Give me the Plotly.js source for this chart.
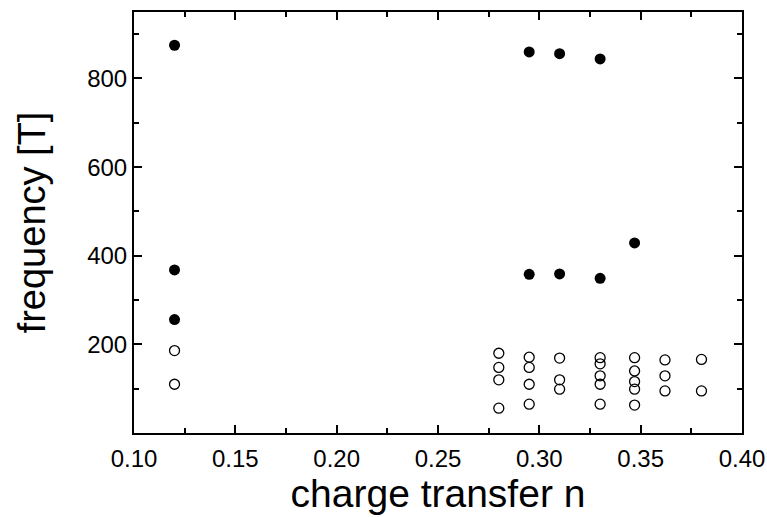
<!DOCTYPE html>
<html>
<head>
<meta charset="utf-8">
<script src="https://cdn.plot.ly/plotly-3.0.1.min.js"></script>
<style>html,body{margin:0;padding:0;background:#fff;}#chart{width:767px;height:517px;}</style>
</head>
<body>
<div id="chart"></div>
<script>
// filled circles
var filledX = [0.12, 0.12, 0.12, 0.295, 0.31, 0.33, 0.295, 0.31, 0.33, 0.347];
var filledY = [875, 368, 256, 860, 856, 844, 358, 359, 349, 429];
// open circles
var openX = [0.12, 0.12,
  0.28, 0.28, 0.28, 0.28,
  0.295, 0.295, 0.295, 0.295,
  0.31, 0.31, 0.31,
  0.33, 0.33, 0.33, 0.33, 0.33,
  0.347, 0.347, 0.347, 0.347, 0.347,
  0.362, 0.362, 0.362,
  0.38, 0.38];
var openY = [186, 110,
  180, 148, 120, 56,
  171, 148, 110, 65,
  169, 120, 99,
  170, 156, 129, 110, 65,
  170, 140, 116, 99, 63,
  165, 129, 95,
  166, 95];
var xTickVals = [0.10, 0.15, 0.20, 0.25, 0.30, 0.35, 0.40];
var xTickText = ["0.10", "0.15", "0.20", "0.25", "0.30", "0.35", "0.40"];
var yTickVals = [200, 400, 600, 800];
var yTickText = ["200", "400", "600", "800"];
var xMinorVals = [0.125, 0.175, 0.225, 0.275, 0.325, 0.375];
var yMinorVals = [100, 300, 500, 700, 900];

var font = "Liberation Sans, Arial, sans-serif";
var traces = [
  {x: openX, y: openY, type: 'scatter', mode: 'markers',
   marker: {symbol: 'circle-open', size: 10, color: '#000', line: {width: 1.3, color: '#000'}},
   showlegend: false, hoverinfo: 'skip'},
  {x: filledX, y: filledY, type: 'scatter', mode: 'markers',
   marker: {symbol: 'circle', size: 11, color: '#000'},
   showlegend: false, hoverinfo: 'skip'}
];
var axisCommon = {
  showgrid: false, zeroline: false, showline: true, linecolor: '#000', linewidth: 2,
  mirror: 'allticks', ticks: 'inside', ticklen: 8, tickwidth: 2, tickcolor: '#000',
  tickfont: {family: font, size: 24, color: '#000'}
};
var layout = {
  width: 767, height: 517,
  margin: {l: 134, r: 25, t: 12, b: 84},
  paper_bgcolor: '#fff', plot_bgcolor: '#fff',
  font: {family: font, color: '#000'},
  xaxis: Object.assign({}, axisCommon, {
    range: [0.10, 0.40], tickmode: 'array', tickvals: xTickVals, ticktext: xTickText,
    ticklabelstandoff: 3,
    minor: {tickmode: 'array', tickvals: xMinorVals, ticks: 'inside', ticklen: 5, tickwidth: 2, tickcolor: '#000', showgrid: false},
    title: {text: 'charge transfer n', font: {family: font, size: 39, color: '#000'}, standoff: 6}
  }),
  yaxis: Object.assign({}, axisCommon, {
    range: [0, 950], tickmode: 'array', tickvals: yTickVals, ticktext: yTickText,
    minor: {tickmode: 'array', tickvals: yMinorVals, ticks: 'inside', ticklen: 5, tickwidth: 2, tickcolor: '#000', showgrid: false},
    title: {text: 'frequency [T]', font: {family: font, size: 38, color: '#000'}, standoff: 30}
  })
};
Plotly.newPlot('chart', traces, layout, {staticPlot: true, displayModeBar: false});
</script>
</body>
</html>
